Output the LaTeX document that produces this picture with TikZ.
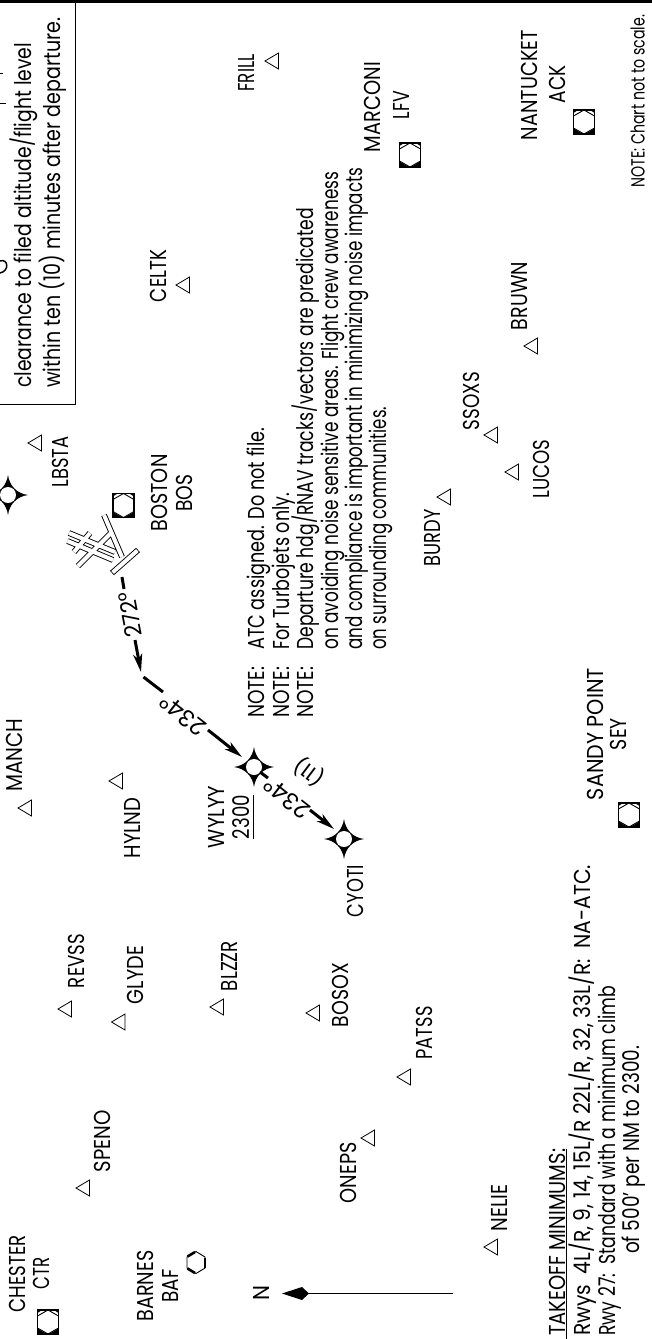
\documentclass[tikz,border=0pt]{standalone}
\usepackage{fontspec}
\usepackage{graphicx}
\setmainfont{Poppins}
\usetikzlibrary{arrows.meta}
\newcommand\fitw[2]{\sbox0{#2}\pgfmathsetmacro\myfx{#1/\the\wd0}\scalebox{\myfx}[1]{\copy0}}
\newcommand\lbl[5]{\node[lab] (#1) at ({#2+8},#3) {\fitw{#4}{#5}};}
\newcommand\txt[5]{\node[txtl] (#1) at ({#2+8},#3) {\fitw{#4}{#5}};}
\tikzset{x=1pt,y=-1pt,
 lab/.style={rotate=90,inner sep=0pt,anchor=base,font=\fontsize{23}{23}\selectfont},
 txtl/.style={rotate=90,inner sep=0pt,anchor=base west,font=\fontsize{23}{23}\selectfont},
 smalltxt/.style={rotate=90,inner sep=0pt,anchor=base west,font=\fontsize{19}{19}\selectfont},
 course/.style={rotate=#1,inner sep=0pt,anchor=center,font=\fontsize{23}{23}\selectfont},
 dist/.style={rotate=#1,inner sep=0pt,anchor=center,font=\fontsize{20}{20}\selectfont},
 trk/.style={line width=3pt},
 trkarrow/.style={line width=3pt,-{Stealth[length=18pt,width=9pt,inset=5pt]}},
 fixtri/.pic={\draw[line width=.8pt,line join=miter] (-7,0) -- (6.5,-8) -- (6.5,8) -- cycle;},
 vordme/.pic={
  \draw[line width=1.9pt,fill=white] (-10.5,-12) rectangle (10.5,12);
  \draw[line width=.9pt] (0,-12) -- (10.5,-6) -- (10.5,6) -- (0,12) -- (-10.5,6) -- (-10.5,-6) -- cycle;
  \fill (-10.5,12) -- (-1,12) -- (-10.5,6.5) -- cycle;
  \fill (10.5,12) -- (1,12) -- (10.5,6.5) -- cycle;
  \fill (-10.5,-12) -- (-6,-12) -- (-10.5,-9) -- cycle;
  \fill (10.5,-12) -- (6,-12) -- (10.5,-9) -- cycle;},
 vorhex/.pic={
  \draw[line width=.9pt] (0,-11) -- (9,-5.5) -- (9,5.5) -- (0,11) -- (-9,5.5) -- (-9,-5.5) -- cycle;
  \draw[line width=2.6pt] (9,-5) -- (9,5);
  \draw[line width=2.6pt] (-8.5,-6) -- (-1,-10.5);
  \draw[line width=2.6pt] (-8.5,6) -- (-1,10.5);},
 wpstar/.pic={
  \fill (0,-20) .. controls (1.5,-9) and (9,-1.5) .. (20,0)
     .. controls (9,1.5) and (1.5,9) .. (0,20)
     .. controls (-1.5,9) and (-9,1.5) .. (-20,0)
     .. controls (-9,-1.5) and (-1.5,-9) .. (0,-20) -- cycle;
  \fill[white] (0,0) circle (8);}
}
\begin{document}
\begin{tikzpicture}
\path[use as bounding box] (0,0) rectangle (652,1339);
% header rule and box
\draw[line width=3pt] (0,1.5) -- (652,1.5);
\draw[line width=.9pt] (75,0) -- (75,404.5) -- (0,404.5);
\txt{boxa}{23}{388}{345}{clearance to filed altitude/flight level}
\txt{boxb}{52}{388}{370}{within ten (10) minutes after departure.}
\draw[line width=1.5pt] (0,103.5) -- (6,103.5) (0,73.5) -- (3,73.5);
\draw[line width=1.5pt] (0,261) .. controls (8,258) and (10,271) .. (0,273);
% notes
\txt{na}{256.5}{718}{51}{NOTE:}
\txt{nb}{281}{718}{51}{NOTE:}
\txt{nc}{305}{718}{51}{NOTE:}
\txt{la}{256.5}{650}{222}{ATC assigned. Do not file.}
\txt{lb}{281}{650}{157}{For Turbojets only.}
\txt{lc}{305}{650}{442}{Departure hdg/RNAV tracks/vectors are predicated}
\txt{ld}{330}{650}{478}{on avoiding noise sensitive areas. Flight crew awareness}
\txt{le}{354}{650}{482}{and compliance is important in minimizing noise impacts}
\txt{lf}{378}{650}{243}{on surrounding communities.}
% takeoff minimums
\txt{ta}{557}{1336}{187}{TAKEOFF MINIMUMS:}
\draw[line width=.9pt] (566,1149) -- (566,1339);
\txt{tb}{582}{1336}{471}{Rwys\ \ 4L/R, 9, 14, 15L/R 22L/R, 32, 33L/R:\ \ NA-ATC.}
\txt{tc}{607}{1336}{350}{Rwy 27:\ \ Standard with a minimum climb}
\txt{td}{631}{1254}{208}{of 500' per NM to 2300.}
\node[smalltxt] (scale) at (644.5,188) {\fitw{173}{NOTE: Chart not to scale.}};
% fixes
\lbl{frill}{246}{73}{37}{FRILL}        \pic at (272,61) {fixtri};
\lbl{celtk}{158}{276}{52}{CELTK}       \pic at (183,285) {fixtri};
\lbl{bruwn}{519}{296}{68}{BRUWN}       \pic at (531,346) {fixtri};
\lbl{ssoxs}{471}{401}{58}{SSOXS}       \pic at (491,435) {fixtri};
\lbl{lbsta}{60}{462}{51}{LBSTA}        \pic at (35,443) {fixtri};
\lbl{burdy}{432}{538}{57}{BURDY}       \pic at (444,497) {fixtri};
\lbl{lucos}{541}{469}{59}{LUCOS}       \pic at (512,472) {fixtri};
\lbl{manch}{15}{755}{73}{MANCH}        \pic at (25,808) {fixtri};
\lbl{hylnd}{132}{828}{61}{HYLND}       \pic at (116,781) {fixtri};
\lbl{revss}{76}{961}{54}{REVSS}        \pic at (65,1009) {fixtri};
\lbl{glyde}{135}{975}{58}{GLYDE}       \pic at (118.5,1022) {fixtri};
\lbl{blzzr}{229}{966}{50}{BLZZR}       \pic at (217,1007) {fixtri};
\lbl{bosox}{340}{995}{64}{BOSOX}       \pic at (313,1013) {fixtri};
\lbl{patss}{424}{1033}{53}{PATSS}      \pic at (404,1077) {fixtri};
\lbl{oneps}{348}{1173}{61}{ONEPS}      \pic at (368,1138) {fixtri};
\lbl{speno}{102}{1141}{62}{SPENO}      \pic at (83,1188) {fixtri};
\lbl{nelie}{499}{1208}{47}{NELIE}      \pic at (491,1247) {fixtri};
% navaids
\lbl{marconi}{372}{107}{90}{MARCONI}
\lbl{lfv}{401}{105}{28}{LFV}           \pic at (410,155) {vordme};
\lbl{nantucket}{529}{85}{110}{NANTUCKET}
\lbl{ack}{557}{84}{38}{ACK}            \pic at (584,122) {vordme};
\lbl{boston}{159}{493}{77}{BOSTON}
\lbl{bos}{184}{493}{37}{BOS}           \pic at (123.5,505.5) {vordme};
\lbl{sandy}{595}{734}{132}{SANDY POINT}
\lbl{sey}{618}{734}{32}{SEY}           \pic at (629,815) {vordme};
\lbl{chester}{17.5}{1274}{77}{CHESTER}
\lbl{ctr}{41.5}{1273}{32}{CTR}         \pic at (48,1322) {vordme};
\lbl{barnes}{145.5}{1286}{71}{BARNES}
\lbl{baf}{170}{1286}{33}{BAF}          \pic at (196,1262.5) {vorhex};
% waypoints
\pic at (8,495) {wpstar};
\pic at (254,767) {wpstar};
\pic at (344,839) {wpstar};
\lbl{wylyy}{216}{817}{62}{WYLYY}
\lbl{alt}{241}{817}{44}{2300}
\draw[line width=.9pt] (253,795) -- (253,839);
\lbl{cyoti}{355}{891}{52}{CYOTI}
% runways
\foreach \lw/\col/\sh in {5.8/black/0,4/white/.8}{
 \draw[line width=\lw pt,color=\col,shorten >=\sh pt,shorten <=\sh pt]
   (69,533) -- (115,552)
   (67.5,541) -- (113,560)
   (74,552) -- (90,533)
   (78,566) -- (111,533)
   (104,515) -- (122,557)
   (112,573) -- (138,550);
}
% track
\coordinate (rwy) at (122,577);
\coordinate (t1) at (124,589);
\coordinate (t2) at (135,640);
\coordinate (t3) at (141,672);
\coordinate (t4) at (143.5,677);
\coordinate (t5) at (163,692);
\coordinate (t6) at (208,730);
\coordinate (t7) at (242,757);
\coordinate (t8) at (260,772);
\coordinate (t9) at (268,778);
\coordinate (t10) at (310,810);
\coordinate (t11) at (334,829);
\draw[trk] (rwy) -- (t1);
\draw[trkarrow] (t2) -- (t3);
\draw[trk] (t4) -- (t5);
\draw[trkarrow] (t6) -- (t7);
\draw[trk] (t8) -- (t9);
\draw[trkarrow] (t10) -- (t11);
\node[course=101] (c272) at (130,615) {\fitw{46}{272°}};
\node[course=142] (c234a) at (183,715) {\fitw{52}{234°}};
\node[course=142] (c234b) at (287,798) {\fitw{52}{234°}};
\node[dist=143] (distnm) at (309,772) {\fitw{32}{(11)}};
% north arrow
\node[lab] (north) at (269,1293) {\fitw{15}{N}};
\coordinate (ntail) at (453,1293.5);
\coordinate (nhead) at (305,1293.5);
\draw[line width=1.5pt] (ntail) -- (nhead);
\fill (282,1293.5) -- (302,1287) -- (309,1293.5) -- (302,1300) -- cycle;
\end{tikzpicture}
\end{document}
